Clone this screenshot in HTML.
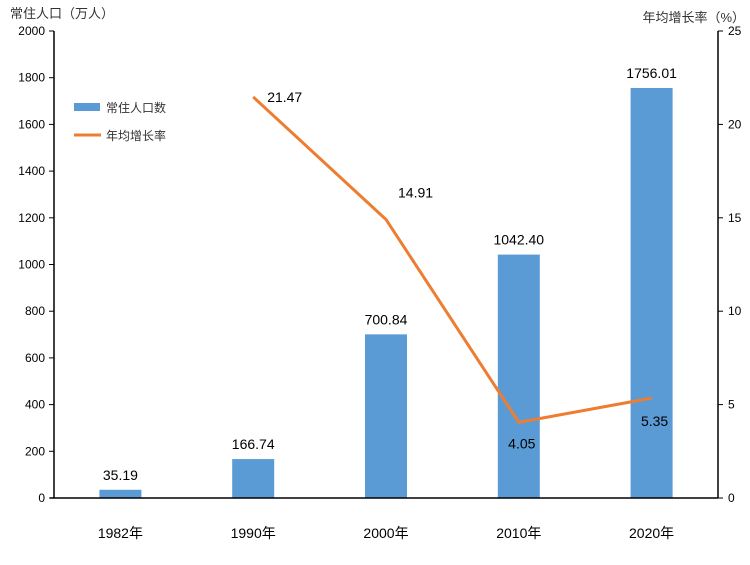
<!DOCTYPE html>
<html><head><meta charset="utf-8"><style>
body{margin:0;background:#fff;}
text{font-family:"Liberation Sans","Noto Sans CJK SC",sans-serif;}
</style></head><body>
<svg id="c" width="750" height="560" xmlns="http://www.w3.org/2000/svg"></svg>
<script>
const categories=["1982年","1990年","2000年","2010年","2020年"];
const population=[35.19,166.74,700.84,1042.40,1756.01];
const popLabels=["35.19","166.74","700.84","1042.40","1756.01"];
const growth=[null,21.47,14.91,4.05,5.35];
const growthLabels=["","21.47","14.91","4.05","5.35"];
const leftTicks=[0,200,400,600,800,1000,1200,1400,1600,1800,2000];
const rightTicks=[0,5,10,15,20,25];
const NS="http://www.w3.org/2000/svg";
const svg=document.getElementById('c');
const X0=54,X1=718,Y0=498,Y1=31;
const band=(X1-X0)/categories.length;
const xc=i=>X0+band*(i+0.5);
const yL=v=>Y0-(v/2000)*(Y0-Y1);
const yR=v=>Y0-(v/25)*(Y0-Y1);
function el(t,a,txt){const e=document.createElementNS(NS,t);for(const k in a)e.setAttribute(k,a[k]);if(txt!==undefined)e.textContent=txt;svg.appendChild(e);return e;}
// bars
population.forEach((v,i)=>{
 const r=el('rect',{x:xc(i)-21,y:yL(v),width:42,height:Y0-yL(v),fill:'#5b9bd5'});
 
 
 const t=el('text',{x:xc(i),y:yL(v)-10,'text-anchor':'middle','font-size':14,fill:'#000'},popLabels[i]);
 
 
});
// axes
const ax=el('line',{x1:X0,y1:Y1,x2:X0,y2:Y0,stroke:'#000','stroke-width':1.5});

const ax2=el('line',{x1:X1,y1:Y1,x2:X1,y2:Y0,stroke:'#000','stroke-width':1.5});

const ax3=el('line',{x1:X0-4,y1:Y0,x2:X1,y2:Y0,stroke:'#000','stroke-width':1.5});

leftTicks.forEach(v=>{
 el('line',{x1:X0-5,y1:yL(v),x2:X0,y2:yL(v),stroke:'#000'});
 const t=el('text',{x:X0-9,y:yL(v)+4,'text-anchor':'end','font-size':12},String(v));
 
});
rightTicks.forEach(v=>{
 el('line',{x1:X1,y1:yR(v),x2:X1+5,y2:yR(v),stroke:'#000'});
 const t=el('text',{x:X1+10,y:yR(v)+4,'text-anchor':'start','font-size':12},String(v));
 
});
categories.forEach((c,i)=>{
 const t=el('text',{x:xc(i),y:538,'text-anchor':'middle','font-size':14},c);
 
});
// line
let pts=[];growth.forEach((v,i)=>{if(v!==null)pts.push(xc(i)+','+yR(v));});
const pl=el('polyline',{points:pts.join(' '),fill:'none',stroke:'#ed7d31','stroke-width':3});

const off=[null,[14,5,'start'],[12,-22,'start'],[3,26,'middle'],[3,28,'middle']];
growth.forEach((v,i)=>{if(v===null)return;
 const t=el('text',{x:xc(i)+off[i][0],y:yR(v)+off[i][1],'text-anchor':off[i][2],'font-size':14},growthLabels[i]);
 
});
// titles
const lt=el('text',{x:10,y:18,'font-size':13,fill:'#333'},'常住人口（万人）');

const rt=el('text',{x:745,y:22,'text-anchor':'end','font-size':13,fill:'#333'},'年均增长率（%）');

// legend
const lg1=el('rect',{x:74,y:103,width:26,height:8,fill:'#5b9bd5'});

const lt1=el('text',{x:106,y:112,'font-size':12,fill:'#333'},'常住人口数');

const lg2=el('line',{x1:74,y1:135,x2:101,y2:135,stroke:'#ed7d31','stroke-width':3});

const lt2=el('text',{x:106,y:140,'font-size':12,fill:'#333'},'年均增长率');

</script>
</body></html>
